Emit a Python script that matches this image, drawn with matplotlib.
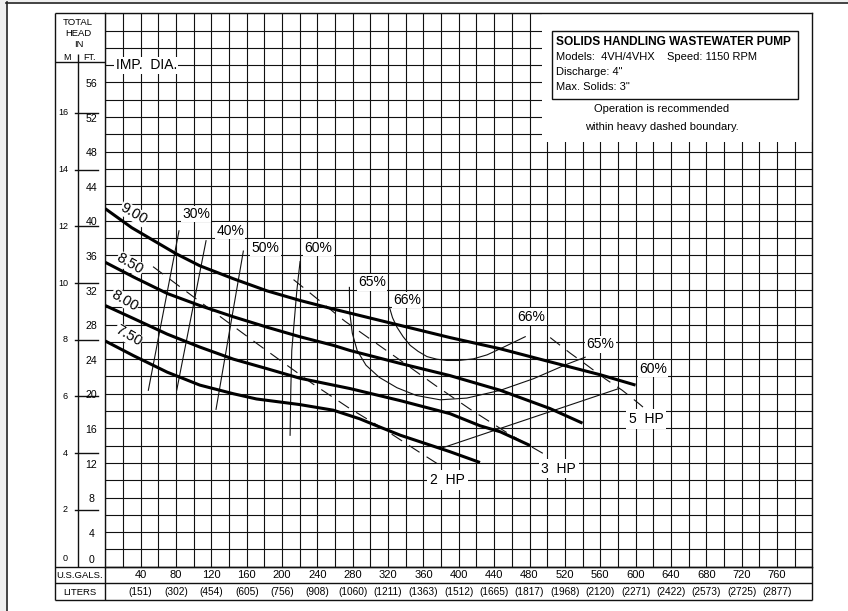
import numpy as np
import matplotlib
matplotlib.use("Agg")
import matplotlib.pyplot as plt
import matplotlib.transforms as mtransforms
from matplotlib.patches import Rectangle

plt.rcParams['lines.scale_dashes'] = False

# ---------------- data ----------------
gpm_ticks = [40, 80, 120, 160, 200, 240, 280, 320, 360, 400, 440, 480, 520, 560, 600, 640, 680, 720, 760]
liter_labels = ['(151)', '(302)', '(454)', '(605)', '(756)', '(908)', '(1060)', '(1211)', '(1363)', '(1512)',
                '(1665)', '(1817)', '(1968)', '(2120)', '(2271)', '(2422)', '(2573)', '(2725)', '(2877)']
ft_ticks = [0, 4, 8, 12, 16, 20, 24, 28, 32, 36, 40, 44, 48, 52, 56]
m_ticks = [0, 2, 4, 6, 8, 10, 12, 14, 16]

# impeller head curves (GPM, ft)
imp_labels = ['9.00', '8.50', '8.00', '7.50']
imp900_q = [0, 30, 55, 80, 107, 145, 183, 220, 258, 290, 334, 390, 447, 503, 560, 600]
imp900_h = [41.4, 39.2, 37.7, 36.2, 34.8, 33.3, 31.9, 30.8, 29.8, 29.0, 27.9, 26.5, 25.2, 23.7, 22.2, 21.0]
imp850_q = [0, 32, 70, 107, 145, 183, 220, 258, 277, 334, 390, 447, 503, 540]
imp850_h = [35.2, 33.5, 31.6, 30.2, 28.9, 27.7, 26.6, 25.6, 25.0, 23.5, 22.1, 20.4, 18.3, 16.6]
imp800_q = [0, 32, 70, 107, 145, 183, 220, 258, 277, 334, 390, 424, 447, 481]
imp800_h = [30.2, 28.7, 26.9, 25.4, 24.0, 22.9, 21.8, 21.0, 20.6, 19.2, 17.7, 16.3, 15.6, 14.0]
imp750_q = [0, 32, 70, 107, 145, 171, 220, 258, 288, 307, 334, 390, 424]
imp750_h = [26.1, 24.4, 22.5, 21.0, 20.0, 19.4, 18.75, 18.1, 17.1, 16.3, 15.2, 13.3, 12.05]
imp_label_q = [32, 28, 22, 26]
imp_label_h = [40.8, 35.0, 30.8, 26.7]

# efficiency lines (GPM, ft)
eff30_q = [48.7, 83.4]; eff30_h = [20.4, 38.85]
eff40_q = [80.8, 114.0]; eff40_h = [20.4, 37.7]
eff50_q = [125.3, 156.2]; eff50_h = [18.2, 36.5]
eff60a_q = [220.4, 216.7, 211.0, 209.9, 209.1]; eff60a_h = [35.3, 31.9, 25.0, 20.4, 15.2]
eff60b_q = [379.0, 581.0]; eff60b_h = [13.66, 20.6]
eff65_q = [276.2, 276.5, 279.5, 285.0, 295.0, 310.0, 330.0, 352.0, 379.0, 409.0, 447.0, 484.5, 522.0, 543.0]
eff65_h = [32.3, 29.5, 27.0, 25.0, 23.3, 21.9, 20.7, 19.8, 19.3, 19.5, 20.4, 21.74, 23.4, 24.23]
eff66_q = [321.5, 325.0, 330.0, 337.0, 345.0, 354.0, 364.0, 375.0, 386.5, 400.0, 416.6, 432.0, 446.8, 475.2]
eff66_h = [30.0, 28.8, 27.7, 26.6, 25.6, 24.9, 24.3, 24.0, 23.85, 23.85, 24.04, 24.5, 25.2, 26.6]
eff_text = ['30%', '40%', '50%', '60%', '65%', '66%', '66%', '65%', '60%']
eff_text_q = [102.7, 141.2, 181.0, 241.1, 301.6, 341.2, 482.0, 560.0, 619.7]
eff_text_h = [40.8, 38.85, 36.9, 36.9, 32.9, 30.85, 28.9, 25.7, 22.9]

# horsepower (dashed) lines (GPM, ft)
hp2_q = [54, 113, 173, 234, 275, 317, 356, 379]
hp2_h = [34.7, 30.2, 25.7, 21.2, 18.4, 15.8, 13.2, 11.7]
hp3_q = [213, 271, 332, 373, 413, 456, 497, 501.5]
hp3_h = [33.2, 28.4, 24.0, 21.0, 18.2, 15.4, 13.0, 12.8]
hp5_q = [503.4, 526, 545, 566, 585, 604, 608.4]
hp5_h = [26.5, 24.7, 23.3, 21.7, 20.4, 18.85, 18.46]
hp_text = ['2  HP', '3  HP', '5  HP']
hp_text_q = [387, 513, 612]
hp_text_h = [10.0, 11.35, 17.1]

# ---------------- figure ----------------
W, H = 848, 611
fig = plt.figure(figsize=(W / 100, H / 100), dpi=100)
fig.patch.set_facecolor('white')

L, R, T, B = 105.3, 812.3, 13.3, 566.7
ax = fig.add_axes([L / W, 1 - B / H, (R - L) / W, (B - T) / H], zorder=0)
ax.set_xlim(0, 800)
ax.set_ylim(0, 64)
ax.set_xticks(np.arange(0, 801, 20))
ax.set_yticks(np.arange(0, 65, 2))
ax.set_xticklabels([])
ax.set_yticklabels([])
ax.tick_params(length=0)
ax.set_axisbelow(True)
ax.grid(True, color='#111111', lw=0.8)
for s in ax.spines.values():
    s.set_linewidth(1.0)
    s.set_color('#111111')

# overlay in pixel coordinates for the table frame/texts
ov = fig.add_axes([0, 0, 1, 1], zorder=5)
ov.set_xlim(0, W)
ov.set_ylim(H, 0)
ov.axis('off')
ov.patch.set_visible(False)

# outer page border
ov.add_patch(Rectangle((0, 0), 6, H, fc='#efefef', ec='none', zorder=0))
ov.add_patch(Rectangle((0, 0), W, 2, fc='#efefef', ec='none', zorder=0))
ov.plot([6.5, 6.5], [2, H], color='#222222', lw=1.2)
ov.plot([6, W], [2.5, 2.5], color='#222222', lw=1.2)

lk = dict(color='#111111', lw=1.0, solid_capstyle='butt')
ov.plot([55, 55], [T, 600], **lk)
ov.plot([55, L], [T, T], **lk)
ov.plot([55, L], [61.7, 61.7], **lk)
ov.plot([77.7, 77.7], [54, B], **lk)
for yy in (B, 583.3, 600):
    ov.plot([55, R], [yy, yy], **lk)
ov.plot([L, L], [B, 600], **lk)
ov.plot([R, R], [B, 600], **lk)

fnt = 'Liberation Sans'
ov.text(78, 22.7, 'TOTAL', ha='center', va='center', fontsize=6.8, family=fnt)
ov.text(78.5, 34.0, 'HEAD', ha='center', va='center', fontsize=6.8, family=fnt)
ov.text(79, 44.3, 'IN', ha='center', va='center', fontsize=6.8, family=fnt)
ov.text(66.7, 57.5, 'M', ha='center', va='center', fontsize=6.5, family=fnt)
ov.text(89.3, 57.5, 'FT.', ha='center', va='center', fontsize=6.5, family=fnt)
ov.text(79.5, 575.3, 'U.S.GALS.', ha='center', va='center', fontsize=6.8, family=fnt)
ov.text(80, 592.3, 'LITERS', ha='center', va='center', fontsize=6.8, family=fnt)

# x labels: x from data scale, y in pixels
xtr = mtransforms.blended_transform_factory(ax.transData, ov.transData)
for q, lt in zip(gpm_ticks, liter_labels):
    ax.text(q, 575.3, str(q), transform=xtr, ha='center', va='center', fontsize=8, family=fnt, clip_on=False)
    ax.text(q, 592.3, lt, transform=xtr, ha='center', va='center', fontsize=7.3, family=fnt, clip_on=False)

# y labels: x in pixels, y from data scale (shifted slightly downward like the reference)
ytr = mtransforms.blended_transform_factory(ov.transData, ax.transData)
ytr_lab = ytr + mtransforms.ScaledTranslation(0, -1.6 / 100, fig.dpi_scale_trans)
for f in ft_ticks:
    yv = f if f > 0 else 0.95
    ax.text(91.3, yv, str(f), transform=ytr_lab, ha='center', va='center', fontsize=7.6, family=fnt, clip_on=False)
for m in m_ticks:
    ft = m * 3.28084
    if m > 0:
        ax.plot([75, 98], [ft, ft], transform=ytr, color='#111111', lw=1.0, clip_on=False)
    yv = ft if m > 0 else 0.95
    ax.text(68, yv, str(m), transform=ytr, ha='right', va='center', fontsize=6.5, family=fnt, clip_on=False)

# blank area at top right (no grid)
ax.add_patch(Rectangle((494, 49.1), 306, 15, fc='white', ec='none', zorder=1.2))

# title box
ov.add_patch(Rectangle((551.7, 31), 246.6, 68, fc='white', ec='#111111', lw=1.0))
ov.text(556.5, 41.7, 'SOLIDS HANDLING WASTEWATER PUMP', ha='left', va='center', fontsize=8.6,
        fontweight='bold', family=fnt)
ov.text(556.5, 57, 'Models:  4VH/4VHX', ha='left', va='center', fontsize=8, family=fnt)
ov.text(666.7, 57, 'Speed: 1150 RPM', ha='left', va='center', fontsize=8, family=fnt)
ov.text(556.5, 71.7, 'Discharge: 4"', ha='left', va='center', fontsize=8, family=fnt)
ov.text(556.5, 86.7, 'Max. Solids: 3"', ha='left', va='center', fontsize=8, family=fnt)
ov.text(661.7, 109, 'Operation is recommended', ha='center', va='center', fontsize=8, family=fnt)
ov.text(661.7, 126.7, 'within heavy dashed boundary.', ha='center', va='center', fontsize=8, family=fnt)

wb = dict(fc='white', ec='none', pad=1.0)
ax.text(46.6, 58, 'IMP.  DIA.', ha='center', va='center', fontsize=10, family=fnt, bbox=wb, zorder=6, clip_on=False)

# efficiency lines
ek = dict(color='#111111', lw=0.8, zorder=2)
for q, h in [(eff30_q, eff30_h), (eff40_q, eff40_h), (eff50_q, eff50_h), (eff60a_q, eff60a_h),
             (eff60b_q, eff60b_h), (eff65_q, eff65_h), (eff66_q, eff66_h)]:
    ax.plot(q, h, **ek)

# horsepower dashed lines
dk = dict(color='#111111', lw=0.8, linestyle=(0, (9, 6)), zorder=2)
for q, h in [(hp2_q, hp2_h), (hp3_q, hp3_h), (hp5_q, hp5_h)]:
    ax.plot(q, h, **dk)

# head curves
for q, h in [(imp900_q, imp900_h), (imp850_q, imp850_h), (imp800_q, imp800_h), (imp750_q, imp750_h)]:
    ax.plot(q, h, color='black', lw=2.2, zorder=3, solid_capstyle='butt')

# labels
for t, q, h in zip(imp_labels, imp_label_q, imp_label_h):
    ax.text(q, h, t, rotation=-30, ha='center', va='center', fontsize=10.5, family=fnt,
            bbox=dict(fc='white', ec='none', pad=0.3), zorder=5)
for t, q, h in zip(eff_text, eff_text_q, eff_text_h):
    ax.text(q, h, t, ha='center', va='center', fontsize=10, family=fnt, bbox=wb, zorder=5)
for t, q, h in zip(hp_text, hp_text_q, hp_text_h):
    ax.text(q, h, t, ha='center', va='center', fontsize=10, family=fnt, bbox=dict(fc='white', ec='none', pad=2.0), zorder=5)

fig.savefig('out.png', dpi=100, facecolor='white')
